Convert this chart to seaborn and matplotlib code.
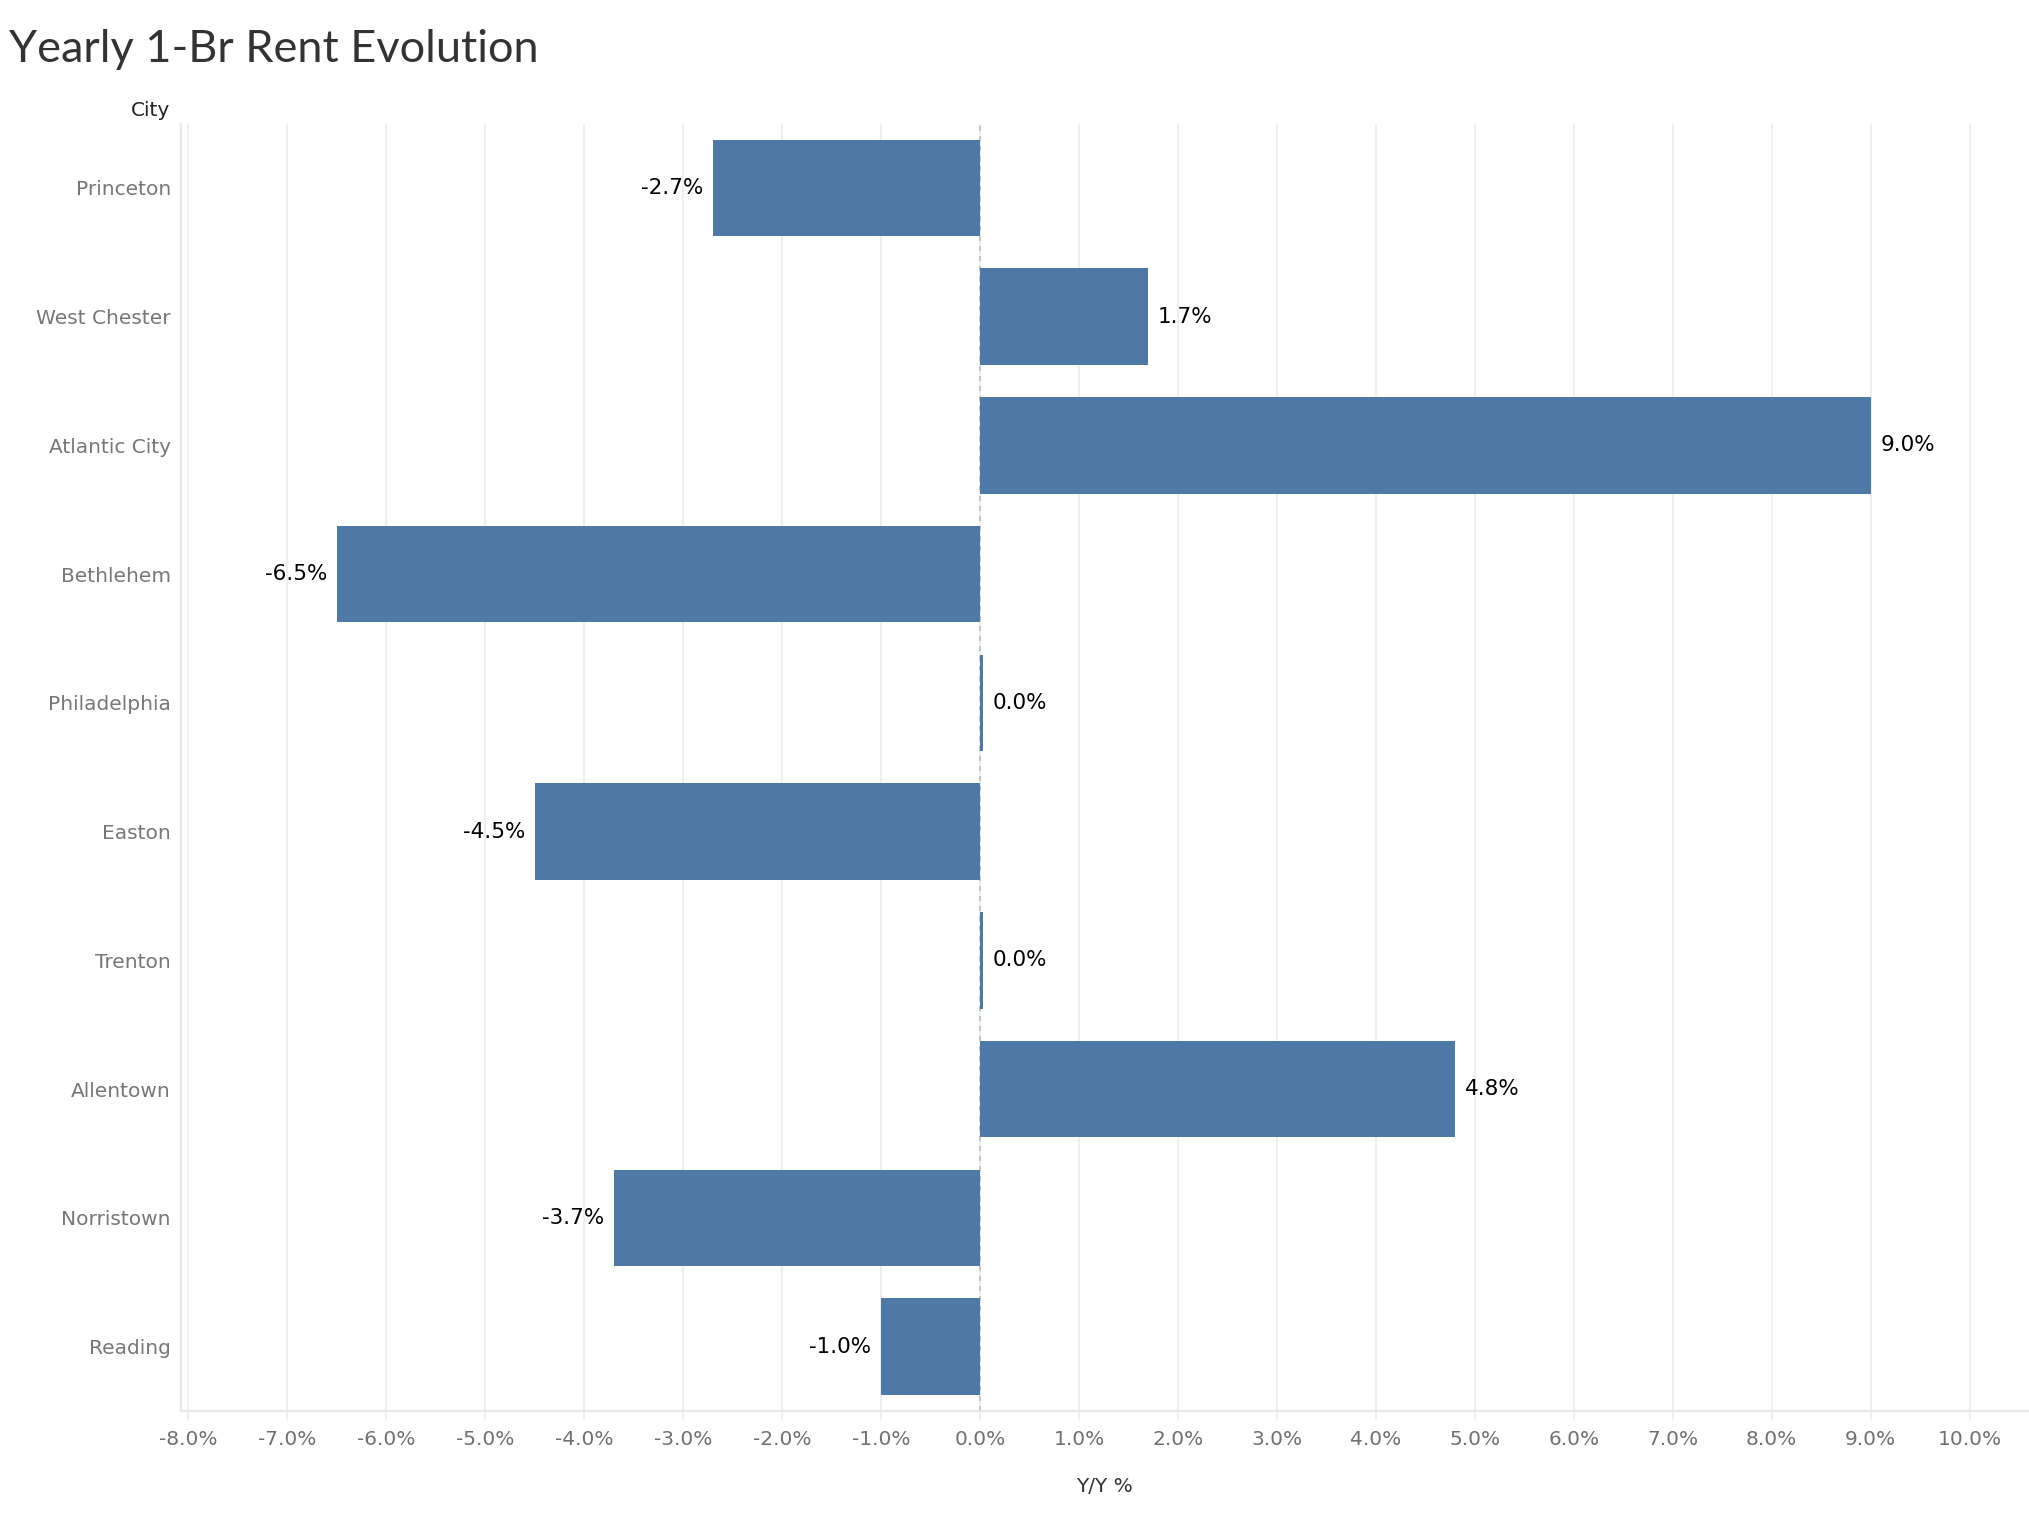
import seaborn as sns
import matplotlib.pyplot as plt
from matplotlib.ticker import FuncFormatter, MultipleLocator

cities = ['Princeton', 'West Chester', 'Atlantic City', 'Bethlehem', 'Philadelphia',
          'Easton', 'Trenton', 'Allentown', 'Norristown', 'Reading']
yy_change = [-2.7, 1.7, 9.0, -6.5, 0.03, -4.5, 0.03, 4.8, -3.7, -1.0]
bar_labels = ['-2.7%', '1.7%', '9.0%', '-6.5%', '0.0%', '-4.5%', '0.0%', '4.8%', '-3.7%', '-1.0%']

sns.set_theme(style='white')
plt.rcParams['font.family'] = ['DejaVu Sans']

W, H = 2029, 1514
fig = plt.figure(figsize=(W / 100, H / 100), dpi=100)
ax = fig.add_axes([180.5 / W, (H - 1411) / H, (W - 180.5) / W, (1411 - 123.5) / H])

sns.barplot(x=yy_change, y=cities, orient='h', color='#4E79A7', saturation=1,
            width=0.75, linewidth=0, ax=ax, zorder=3)

for c in ax.containers:
    ax.bar_label(c, labels=bar_labels, padding=7, fontsize=15.5, color='black')

ax.set_xlim(-8.08, 10.6)
ax.xaxis.set_major_locator(MultipleLocator(1))
ax.xaxis.set_major_formatter(FuncFormatter(lambda v, p: f'{v:.1f}%'))
ax.grid(axis='x', color='#efefef', linewidth=1.5, zorder=0)
ax.set_axisbelow(True)
ax.axvline(0, color='#bdbdbd', linestyle=(0, (3, 3)), linewidth=1.2, zorder=2)

for side in ['top', 'right']:
    ax.spines[side].set_visible(False)
for side in ['left', 'bottom']:
    ax.spines[side].set_color('#e8e8e8')
    ax.spines[side].set_linewidth(1.6)

ax.tick_params(axis='x', bottom=True, length=6.5, width=1.2, color='#ececec',
               labelsize=14.5, labelcolor='#707070', pad=7)
ax.tick_params(axis='y', left=False, length=0, labelsize=14.5, labelcolor='#777777', pad=7)

ax.set_ylabel('')
ax.set_xlabel('Y/Y %', fontsize=14.5, color='#333333', labelpad=20)

fig.text(9 / W, 1 - 62 / H, 'Yearly 1-Br Rent Evolution', fontsize=32.5,
         family=['Lato', 'DejaVu Sans'], color='#333333', ha='left', va='baseline')
fig.text(170 / W, 1 - 110 / H, 'City', fontsize=14.5, color='#222222',
         ha='right', va='center')

fig.savefig('out.png', dpi=100)
